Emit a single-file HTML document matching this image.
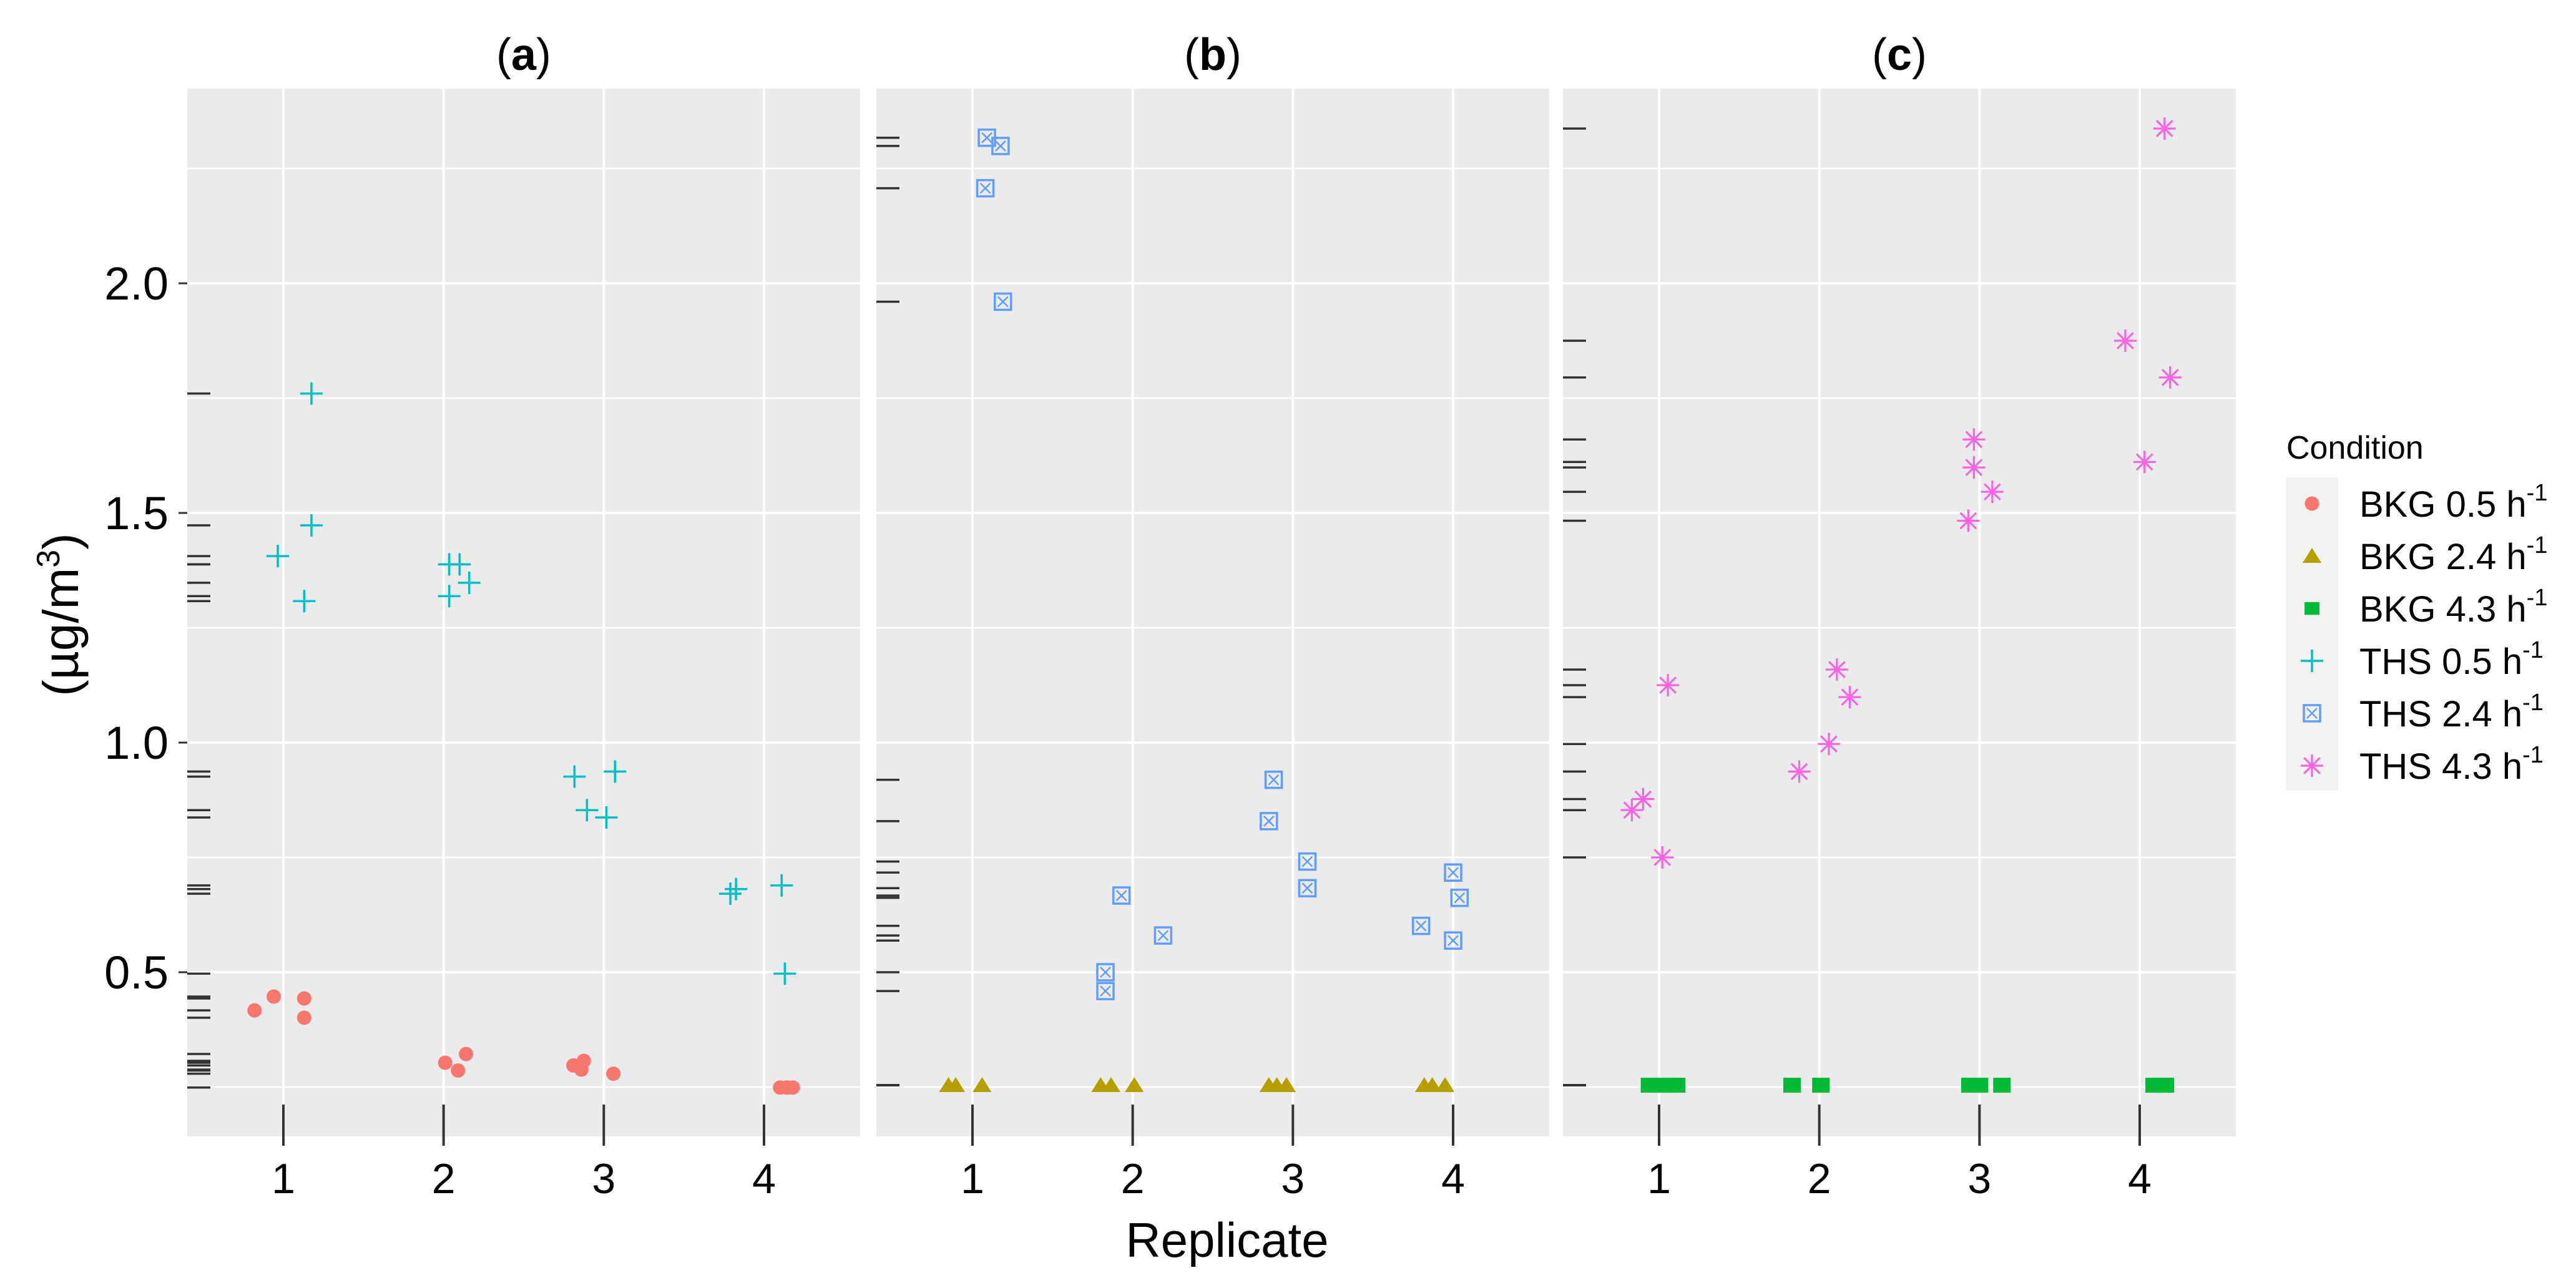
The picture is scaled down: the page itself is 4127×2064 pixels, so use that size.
<!DOCTYPE html>
<html><head><meta charset="utf-8">
<style>
html,body{margin:0;padding:0;background:#fff;}
svg{display:block;font-family:"Liberation Sans",sans-serif;}
</style></head>
<body>
<svg id="chart" width="4127" height="2064" viewBox="0 0 4127 2064" xmlns="http://www.w3.org/2000/svg">
<g id="panels"></g>
<text transform="translate(125,985) rotate(-90)" text-anchor="middle" font-size="80" fill="#000">(µg/m<tspan font-size="52" dy="-30">3</tspan><tspan dy="30">)</tspan></text>
<text x="1966" y="2014" text-anchor="middle" font-size="78" fill="#000">Replicate</text>
<g id="legend"></g>
</svg>
<script>
// ---- data ----
const categories = [1, 2, 3, 4];
const yTicks = [0.5, 1.0, 1.5, 2.0];
const yTickLabels = ["0.5", "1.0", "1.5", "2.0"];
const panelTitles = ["a", "b", "c"];
// panel (a)
const bkg05X = [0.82,0.94,1.13,1.13, 2.01,2.14,2.09, 2.81,2.875,2.86,3.06, 4.10,4.14,4.18,4.15];
const bkg05Y = [0.417,0.447,0.443,0.401, 0.303,0.322,0.286, 0.297,0.307,0.288,0.279, 0.249,0.249,0.249,0.249];
const ths05X = [1.175,1.175,0.965,1.13, 2.035,2.10,2.16,2.035, 2.817,3.07,2.895,3.016, 3.79,3.825,4.11,4.13];
const ths05Y = [1.76,1.473,1.406,1.308, 1.388,1.388,1.348,1.319, 0.926,0.937,0.853,0.837, 0.671,0.681,0.689,0.497];
// panel (b)
const bkg24X = [0.85,0.895,1.06, 1.80,1.865,2.01, 2.85,2.90,2.96, 3.82,3.87,3.95];
const bkg24Y = [0.254,0.254,0.254, 0.254,0.254,0.254, 0.254,0.254,0.254, 0.254,0.254,0.254];
const ths24X = [1.09,1.175,1.08,1.19, 1.93,2.19,1.83,1.83, 2.88,2.85,3.09,3.09, 4.0,4.04,3.80,4.0];
const ths24Y = [2.317,2.299,2.207,1.960, 0.667,0.580,0.500,0.459, 0.919,0.829,0.741,0.683, 0.717,0.662,0.601,0.569];
// panel (c)
const bkg43X = [0.94,1.02,1.08,1.11, 1.83,2.01, 2.94,3.0,3.14, 4.09,4.12,4.15,4.16];
const bkg43Y = [0.254,0.254,0.254,0.254, 0.254,0.254, 0.254,0.254,0.254, 0.254,0.254,0.254,0.254];
const ths43X = [1.055,0.90,0.83,1.02, 2.11,2.19,2.06,1.875, 2.965,2.965,3.08,2.93, 4.155,3.91,4.19,4.03];
const ths43Y = [1.125,0.877,0.853,0.750, 1.159,1.099,0.997,0.937, 1.660,1.599,1.546,1.483, 2.337,1.875,1.795,1.611];
const legendLabels = ["BKG 0.5 h", "BKG 2.4 h", "BKG 4.3 h", "THS 0.5 h", "THS 2.4 h", "THS 4.3 h"];

// ---- layout ----
const NS = "http://www.w3.org/2000/svg";
const panelLeft = [300, 1404, 2504];
const panelW = 1078, panelTop = 142, panelBottom = 1821;
const xMin = 0.4, xMax = 4.6;
function xScale(p, c) { return panelLeft[p] + (c - xMin) / (xMax - xMin) * panelW; }
function yScale(v) { return 1926 - 736 * v; }
const colors = {bkg05:"#F8766D", bkg24:"#B79F00", bkg43:"#00BA38", ths05:"#00BFC4", ths24:"#619CFF", ths43:"#F564E3"};

function mk(tag, attrs, parent) {
  const e = document.createElementNS(NS, tag);
  for (const k in attrs) e.setAttribute(k, attrs[k]);
  parent.appendChild(e);
  return e;
}
function marker(g, shape, cx, cy, s) {
  let e;
  if (shape === "circle") {
    e = mk("circle", {cx, cy, r: 11.5*s, fill: colors.bkg05}, g);
  } else if (shape === "triangle") {
    e = mk("polygon", {points: `${cx},${cy-13*s} ${cx-15*s},${cy+11*s} ${cx+15*s},${cy+11*s}`, fill: colors.bkg24}, g);
  } else if (shape === "square") {
    e = mk("rect", {x: cx-14*s, y: cy-12*s, width: 28*s, height: 24*s, fill: colors.bkg43}, g);
  } else if (shape === "plus") {
    e = mk("path", {d: `M${cx-18*s},${cy}H${cx+18*s}M${cx},${cy-18*s}V${cy+18*s}`, stroke: colors.ths05, "stroke-width": 3.5, fill: "none"}, g);
  } else if (shape === "boxx") {
    e = mk("g", {}, g);
    mk("rect", {x: cx-13*s, y: cy-13*s, width: 26*s, height: 26*s, fill: "none", stroke: colors.ths24, "stroke-width": 3.5}, e);
    mk("path", {d: `M${cx-8*s},${cy-8*s}L${cx+8*s},${cy+8*s}M${cx+8*s},${cy-8*s}L${cx-8*s},${cy+8*s}`, stroke: colors.ths24, "stroke-width": 2.5}, e);
  } else if (shape === "star") {
    const r = 18*s, d = r*0.71;
    e = mk("path", {d: `M${cx-r},${cy}H${cx+r}M${cx},${cy-r}V${cy+r}M${cx-d},${cy-d}L${cx+d},${cy+d}M${cx+d},${cy-d}L${cx-d},${cy+d}`, stroke: colors.ths43, "stroke-width": 3.2, fill: "none"}, g);
  }
  return e;
}

const panelsG = document.getElementById("panels");
const panelSeries = [
  [["bkg05", "circle", bkg05X, bkg05Y], ["ths05", "plus", ths05X, ths05Y]],
  [["bkg24", "triangle", bkg24X, bkg24Y], ["ths24", "boxx", ths24X, ths24Y]],
  [["bkg43", "square", bkg43X, bkg43Y], ["ths43", "star", ths43X, ths43Y]]
];

for (let p = 0; p < 3; p++) {
  const g = mk("g", {}, panelsG);
  
  
  const bg = mk("rect", {x: panelLeft[p], y: panelTop, width: panelW, height: panelBottom - panelTop, fill: "#EBEBEB"}, g);
  
  
  // minor horizontal grid
  for (let v = 0.25; v < 2.5; v += 0.5) {
    const y = yScale(v);
    if (y < panelTop || y > panelBottom) continue;
    const l = mk("line", {x1: panelLeft[p], x2: panelLeft[p] + panelW, y1: y, y2: y, stroke: "#fff", "stroke-width": 2.5}, g);
    
    
  }
  yTicks.forEach(v => {
    const y = yScale(v);
    const l = mk("line", {x1: panelLeft[p], x2: panelLeft[p] + panelW, y1: y, y2: y, stroke: "#fff", "stroke-width": 4}, g);
    
    
  });
  categories.forEach(c => {
    const x = xScale(p, c);
    const l = mk("line", {x1: x, x2: x, y1: panelTop, y2: panelBottom, stroke: "#fff", "stroke-width": 4}, g);
    
    
    const t = mk("line", {x1: x, x2: x, y1: 1770, y2: 1836, stroke: "#333", "stroke-width": 4}, g);
    
    
    const lab = mk("text", {x: x, y: 1912, "text-anchor": "middle", "font-size": 68, fill: "#000"}, g);
    lab.textContent = String(c);
    
    
  });
  // title
  const tt = mk("text", {x: panelLeft[p] + panelW/2, y: 112, "text-anchor": "middle", "font-size": 72, fill: "#000"}, g);
  tt.innerHTML = '(<tspan font-weight="bold">' + panelTitles[p] + '</tspan>)';
  
  
  // rug on y
  panelSeries[p].forEach(s => {
    s[3].forEach(v => {
      const y = yScale(v);
      const r = mk("line", {x1: panelLeft[p], x2: panelLeft[p] + 37, y1: y, y2: y, stroke: "#333", "stroke-width": 3.5}, g);
      
      
    });
  });
  // points
  panelSeries[p].forEach(s => {
    const sg = mk("g", {}, g);
    
    
    s[2].forEach((c, i) => {
      const m = marker(sg, s[1], xScale(p, c), yScale(s[3][i]), 1);
      
      
    });
  });
}
// y axis ticks/labels (panel a)
yTicks.forEach((v, i) => {
  const y = yScale(v);
  const t = mk("line", {x1: 286, x2: 300, y1: y, y2: y, stroke: "#333", "stroke-width": 3}, panelsG);
  
  
  const lab = mk("text", {x: 270, y: y + 26, "text-anchor": "end", "font-size": 74, fill: "#000"}, panelsG);
  lab.textContent = yTickLabels[i];
  
  
});
// legend
const lg = document.getElementById("legend");
const lt = mk("text", {x: 3663, y: 735, "font-size": 52, fill: "#000"}, lg);
lt.textContent = "Condition";


const kb = mk("rect", {x: 3663, y: 765, width: 83, height: 502, fill: "#F2F2F2"}, lg);


const shapes = ["circle", "triangle", "square", "plus", "boxx", "star"];
legendLabels.forEach((lab, i) => {
  const cy = 807 + i * 84;
  const eg = mk("g", {}, lg);
  
  
  marker(eg, shapes[i], 3704, cy, shapes[i] === "square" ? 0.85 : 1);
  const t = mk("text", {x: 3780, y: cy + 21, "font-size": 58, fill: "#000"}, eg);
  t.innerHTML = lab + '<tspan font-size="38" dy="-26">-1</tspan>';
});
</script>
</body></html>
